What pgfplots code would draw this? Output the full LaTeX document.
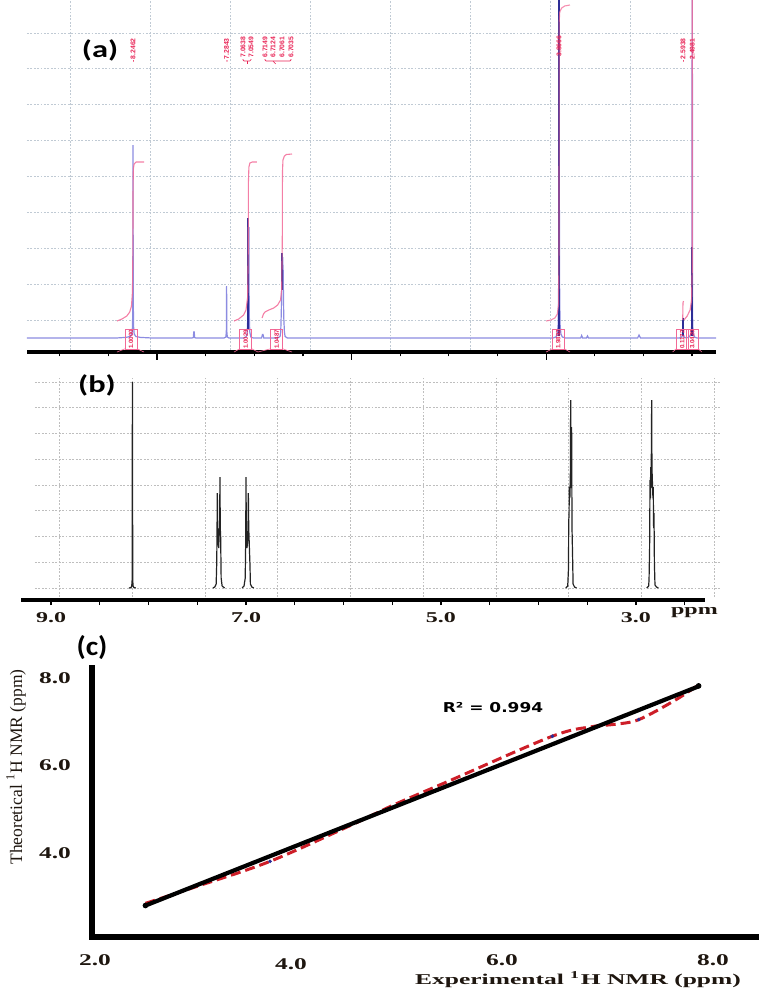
\documentclass[border=0pt]{standalone}
\usepackage{pgfplots}
\pgfplotsset{compat=1.18}
\usepackage{fontspec}
\setmainfont{Liberation Serif}
\newfontfamily\calib{Carlito}
\newfontfamily\verd{DejaVu Sans}
\newfontfamily\lsans{Liberation Sans}
\definecolor{lblue}{RGB}{140,140,225}
\definecolor{navy}{RGB}{45,45,150}
\definecolor{ipink}{RGB}{242,105,150}
\definecolor{lred}{RGB}{232,35,85}
\definecolor{gridc}{RGB}{192,202,212}
\definecolor{gridb}{RGB}{190,190,190}
\definecolor{crim}{RGB}{205,30,40}
\definecolor{tickc}{RGB}{30,22,15}
\definecolor{spec}{RGB}{35,35,35}
\pgfplotsset{
  gridonly/.style={scale only axis, anchor=south west, axis line style={draw=none},
    xticklabels={}, yticklabels={}, major tick length=0pt, grid=major, clip=false},
}
\tikzset{
  plab/.style={rotate=90, anchor=west, inner sep=0pt, text=lred, font=\lsans\bfseries\fontsize{3.4}{4}\selectfont},
  ibox/.style={rotate=90, draw=ipink, line width=0.3pt, text=lred, inner sep=0.4pt,
     minimum width=9.5pt, minimum height=6pt, font=\lsans\bfseries\fontsize{3.1}{3.3}\selectfont},
  tl/.style={text=tickc, font=\bfseries\fontsize{7.5}{8}\selectfont, xscale=1.6, inner sep=0pt},
  tlc/.style={text=tickc, font=\bfseries\fontsize{8.2}{9}\selectfont, xscale=1.55, inner sep=0pt},
  leg/.style={ipink, line width=0.3pt},
  brk/.style={lred, line width=0.3pt, rounded corners=0.6pt},
}
\begin{document}
\begin{tikzpicture}[x=0.5pt,y=-0.5pt]
\useasboundingbox (0,0) rectangle (759,992);

% ================= (a) grid =================
\begin{axis}[gridonly, at={(13.5pt,-175pt)}, width=336.5pt, height=175pt,
  xmin=27, xmax=700, ymin=0, ymax=350,
  xtick={70,150,230,310,390,470,550,630},
  ytick={30,66,102,138,174,210,246,282,317},
  grid style={gridc, line width=0.4pt, dash pattern=on 0.9pt off 0.8pt}]
\addplot[draw=none] coordinates {(27,0)};
\end{axis}

% ================= (a) spectrum =================
\begin{axis}[at={(13.5pt,-176pt)}, anchor=south west, scale only axis,
  width=344.5pt, height=176pt,
  x dir=reverse, xmin=2.254, xmax=9.336, ymin=0, ymax=352,
  axis x line*=bottom, axis y line=none,
  x axis line style={-, line width=2.1pt, black},
  xtick={2.5,3,...,9}, xticklabels={}, tick align=outside,
  major tick length=2.2pt, tick style={black, line width=0.6pt},
  extra x ticks={4,6,8}, extra x tick labels={},
  extra x tick style={major tick length=3.8pt}]
\addplot[lblue, line width=0.6pt] coordinates {
(9.336,14) (8.42,14) (8.32,14.6) (8.275,15.5) (8.258,18) (8.251,26) (8.2485,60) (8.2462,207) (8.2440,60) (8.241,26) (8.234,18) (8.217,15.5) (8.17,14.6) (8.05,14)
(7.64,14) (7.626,14.5) (7.622,20) (7.617,20) (7.613,14.5) (7.60,14)
(7.31,14) (7.292,15) (7.287,20) (7.2843,66) (7.2815,20) (7.277,15) (7.26,14)
(7.11,14) (7.085,15) (7.074,18) (7.068,30) (7.0655,80) (7.0638,134) (7.0610,90) (7.0580,95) (7.0549,125) (7.0520,40) (7.046,20) (7.035,15) (7.01,14)
(6.925,14) (6.916,17.5) (6.910,17.5) (6.902,14)
(6.76,14) (6.735,15.5) (6.728,20) (6.722,40) (6.7149,90) (6.7135,75) (6.7124,99) (6.7095,70) (6.7061,95) (6.7048,72) (6.7035,85) (6.697,35) (6.690,20) (6.683,15.5) (6.66,14)
(3.93,14) (3.90,15) (3.885,18) (3.876,28) (3.870,80) (3.8666,420) (3.863,80) (3.857,28) (3.848,18) (3.833,15) (3.80,14)
(3.645,14) (3.635,16.5) (3.625,14) (3.585,14) (3.575,16) (3.565,14)
(3.06,14) (3.045,17) (3.03,14)
(2.63,14) (2.605,15) (2.598,18) (2.5938,34) (2.590,18) (2.584,15) (2.560,14) (2.53,15) (2.51,18) (2.503,28) (2.4981,420) (2.494,28) (2.487,18) (2.475,15) (2.45,14) (2.254,14)};
% dark cores
\addplot[navy, line width=0.9pt] coordinates {(7.0605,22) (7.0605,134)};
\addplot[navy, line width=1.1pt] coordinates {(6.712,62) (6.712,99)};
\addplot[navy, line width=0.9pt] coordinates {(3.8666,16) (3.8666,360)};
\addplot[navy, line width=0.8pt] coordinates {(2.4981,16) (2.4981,105)};
\addplot[navy, line width=0.7pt] coordinates {(2.5938,16) (2.5938,34)};
% integrals
\addplot[ipink, line width=0.55pt, opacity=0.85] coordinates {
(8.411,31) (8.36,33) (8.31,36) (8.28,40) (8.262,46) (8.252,60) (8.2475,100) (8.246,160) (8.243,183) (8.235,188) (8.215,190) (8.133,190)};
\addplot[ipink, line width=0.55pt, opacity=0.85] coordinates {
(7.208,31) (7.16,33) (7.11,37) (7.085,42) (7.068,55) (7.062,100) (7.060,170) (7.055,185) (7.045,189) (7.02,190) (6.972,190)};
\addplot[ipink, line width=0.55pt, opacity=0.85] coordinates {
(6.920,34) (6.905,38) (6.89,40) (6.85,42) (6.80,44) (6.76,47) (6.73,52) (6.718,62) (6.712,110) (6.710,180) (6.705,192) (6.69,196) (6.67,197.5) (6.612,198)};
\addplot[ipink, line width=0.55pt, opacity=0.75] coordinates {
(4.0,31) (3.95,32) (3.91,34) (3.885,38) (3.872,48) (3.868,100) (3.866,330) (3.86,340) (3.84,344) (3.81,346) (3.755,347)};
\addplot[ipink, line width=0.55pt, opacity=0.85] coordinates {
(2.597,32) (2.5945,40) (2.5935,49) (2.588,51)};
\addplot[ipink, line width=0.6pt, opacity=0.8] coordinates {
(2.583,32) (2.55,36) (2.52,42) (2.505,52) (2.499,80) (2.4981,130) (2.4981,400)};
% integration boxes
\node[ibox] at (8.267,12.5) {1.0000};
\node[ibox] at (7.088,12.5) {1.0029};
\node[ibox] at (6.769,12.5) {1.0487};
\node[ibox] at (3.875,12.5) {1.9892};
\node[ibox] at (2.601,12.5) {0.1172};
\node[ibox] at (2.498,12.5) {3.0420};
\draw[leg] (8.411,0) -- (8.329,3.2); \draw[leg] (8.205,3.2) -- (8.133,0);
\draw[leg] (7.208,0) -- (7.150,3.2); \draw[leg] (7.026,3.2) -- (6.962,0);
\draw[leg] (6.962,0) -- (6.831,3.2); \draw[leg] (6.707,3.2) -- (6.612,0);
\draw[leg] (4.0,0) -- (3.937,3.2); \draw[leg] (3.813,3.2) -- (3.755,0);
\draw[leg] (2.70,0) -- (2.663,3.2); \draw[leg] (2.436,3.2) -- (2.40,0);
% peak labels
\node[plab] at (8.2462,289) {-\,8.2462};
\node[plab] at (7.2843,289) {-\,7.2843};
\node[plab] at (7.116,294) {7.0638};
\node[plab] at (7.034,294) {7.0549};
\draw[brk] (7.116,293) -- (7.116,291) -- (7.034,291) -- (7.034,293);
\draw[brk] (7.075,291) -- (7.075,288);
\node[plab] at (6.890,294) {6.7149};
\node[plab] at (6.807,294) {6.7124};
\node[plab] at (6.715,294) {6.7061};
\node[plab] at (6.622,294) {6.7035};
\draw[brk] (6.890,293) -- (6.890,291) -- (6.622,291) -- (6.622,293);
\draw[brk] (6.807,291) -- (6.780,288);
\node[plab] at (3.8666,295) {3.8666};
\node[plab] at (2.5938,289) {-\,2.5938};
\node[plab] at (2.4981,292) {2.4981};
\end{axis}

\node[font=\calib\bfseries\fontsize{12}{14}\selectfont, xscale=1.35] at (100,50) {(a)};

% ================= (b) grid =================
\begin{axis}[gridonly, at={(17.5pt,-298.5pt)}, width=342.5pt, height=110pt,
  xmin=35, xmax=720, ymin=0, ymax=220,
  xtick={59,132,205,277,350,423,496,568,641,714},
  ytick={9,34.75,60.5,86.25,112,137.75,163.5,189.25,215},
  grid style={gridb, line width=0.4pt, dash pattern=on 0.9pt off 0.8pt}]
\addplot[draw=none] coordinates {(35,0)};
\end{axis}

% ================= (b) spectrum =================
\begin{axis}[at={(10.5pt,-300pt)}, anchor=south west, scale only axis,
  width=342pt, height=111.5pt,
  x dir=reverse, xmin=2.292, xmax=9.308, ymin=-12, ymax=211,
  axis x line*=bottom, axis y line=none,
  x axis line style={-, line width=2pt, black},
  xtick={2.5,3,...,9}, xticklabels={}, tick align=outside,
  major tick length=2.6pt, tick style={black, line width=0.6pt}, clip=false]
\addplot[spec, line width=0.6pt] coordinates {
(8.20,0) (8.180,0.5) (8.172,2) (8.168,8) (8.1665,125) (8.165,206) (8.1635,125) (8.162,8) (8.158,2) (8.15,0.5) (8.13,0)};
\addplot[spec, line width=0.6pt] coordinates {
(7.34,0) (7.32,1) (7.306,4) (7.300,26) (7.297,60) (7.294,95) (7.290,50) (7.280,40) (7.270,70) (7.267,111) (7.264,60) (7.260,51) (7.255,10) (7.245,2) (7.22,0)};
\addplot[spec, line width=0.6pt] coordinates {
(7.04,0) (7.02,2) (7.008,10) (7.003,48) (7.000,111) (6.997,60) (6.990,40) (6.980,50) (6.976,95) (6.972,60) (6.959,22) (6.955,4) (6.94,1) (6.92,0)};
\addplot[spec, line width=0.6pt] coordinates {
(3.72,0) (3.70,2) (3.692,20) (3.690,65) (3.686,75) (3.684,101) (3.678,90) (3.672,120) (3.670,188) (3.667,130) (3.662,100) (3.660,161) (3.656,60) (3.650,31) (3.645,4) (3.63,1) (3.61,0)};
\addplot[spec, line width=0.6pt] coordinates {
(2.89,0) (2.87,2) (2.866,8) (2.864,18) (2.860,40) (2.856,108) (2.852,90) (2.849,121) (2.845,100) (2.841,150) (2.839,188) (2.836,120) (2.826,90) (2.823,101) (2.819,60) (2.815,75) (2.811,25) (2.805,3) (2.79,1) (2.77,0)};
\node[tl] at (9,-30) {9.0};
\node[tl] at (7,-30) {7.0};
\node[tl] at (5,-30) {5.0};
\node[tl] at (3,-30) {3.0};
\node[tl] at (2.40,-25) {ppm};
\end{axis}

\node[font=\calib\bfseries\fontsize{12}{14}\selectfont, xscale=1.35] at (97,385) {(b)};

% ================= (c) correlation =================
\begin{axis}[at={(46pt,-468.5pt)}, anchor=south west, scale only axis,
  width=332.5pt, height=134.5pt,
  xmin=1.971, xmax=8.427, ymin=2.08, ymax=8.229,
  axis lines=left, axis line style={-, line width=2.6pt, black, line cap=rect},
  xtick=\empty, ytick=\empty, clip=false]
\addplot[crim, line width=1.5pt, dash pattern=on 5pt off 2.5pt, smooth, tension=0.55] coordinates {
 (2.49,2.85) (3.02,3.26) (3.70,3.81) (4.48,4.63) (4.91,5.11) (5.45,5.66) (6.44,6.67) (6.83,6.89) (7.04,6.94) (7.28,7.05) (7.63,7.49) (7.85,7.83)};
\addplot[black, line width=2.1pt] coordinates {(2.49,2.80) (7.86,7.81)};
\addplot[only marks, mark=*, mark size=0.7pt, navy] coordinates {(3.70,3.81) (6.44,6.67) (7.28,7.05)};
\addplot[only marks, mark=*, mark size=1.2pt, black] coordinates {(2.49,2.80) (7.86,7.82)};
\node[tlc] at (2.0,1.554) {2.0};
\node[tlc] at (3.903,1.463) {4.0};
\node[tlc] at (5.951,1.554) {6.0};
\node[tlc] at (8.0,1.554) {8.0};
\node[tlc] at (1.612,8) {8.0};
\node[tlc] at (1.612,6) {6.0};
\node[tlc] at (1.612,4) {4.0};
\end{axis}

\node[font=\calib\bfseries\fontsize{13.5}{15}\selectfont, xscale=1.1] at (92,648) {(c)};
\node[font=\verd\bfseries\fontsize{6.8}{8}\selectfont, xscale=1.25] at (493,708) {R² = 0.994};
\node[font=\fontsize{8.75}{10}\selectfont, text=tickc, rotate=90] at (16,767) {Theoretical \textsuperscript{1}H NMR (ppm)};
\node[font=\bfseries\fontsize{7.5}{9}\selectfont, text=tickc, xscale=1.7] at (578,980) {Experimental \textsuperscript{1}H NMR (ppm)};
\end{tikzpicture}
\end{document}
